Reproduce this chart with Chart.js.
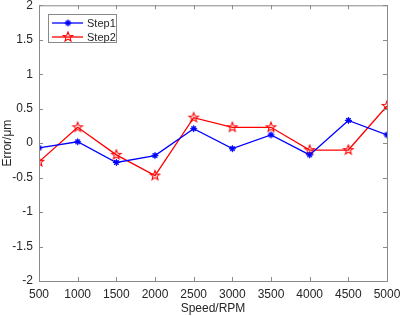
<!DOCTYPE html>
<html>
<head>
<meta charset="utf-8">
<script src="https://cdn.jsdelivr.net/npm/chart.js@4/dist/chart.umd.min.js"></script>
<style>
  html, body { margin: 0; padding: 0; background: #fff; }
  #wrap { width: 400px; height: 316px; }
</style>
</head>
<body>
<div id="wrap"><canvas id="chart"></canvas></div>
<script>
const speeds = [500, 1000, 1500, 2000, 2500, 3000, 3500, 4000, 4500, 5000];
const step1 = [-0.07, 0.02, -0.28, -0.18, 0.21, -0.08, 0.12, -0.17, 0.33, 0.12];
const step2 = [-0.27, 0.23, -0.17, -0.47, 0.37, 0.23, 0.23, -0.10, -0.10, 0.54];
const xTicks = [500, 1000, 1500, 2000, 2500, 3000, 3500, 4000, 4500, 5000];
const yTicks = [-2, -1.5, -1, -0.5, 0, 0.5, 1, 1.5, 2];

const FONT = 'Liberation Sans, Arial, sans-serif';
const AXIS = '#8a8a8a';
const TEXT = '#262626';

// marker images
function starMarker(color, r) {
  const c = document.createElement('canvas');
  c.width = c.height = 2 * r + 4;
  const g = c.getContext('2d');
  g.translate(c.width / 2, c.height / 2);
  g.beginPath();
  for (let i = 0; i < 10; i++) {
    const rad = i % 2 === 0 ? r : r * 0.42;
    const a = -Math.PI / 2 + i * Math.PI / 5;
    g.lineTo(rad * Math.cos(a), rad * Math.sin(a));
  }
  g.closePath();
  g.strokeStyle = color;
  g.lineWidth = 1.1;
  g.stroke();
  return c;
}
function asteriskMarker(color, r) {
  const c = document.createElement('canvas');
  c.width = c.height = 2 * r + 4;
  const g = c.getContext('2d');
  g.translate(c.width / 2, c.height / 2);
  g.fillStyle = color;
  g.beginPath();
  g.arc(0, 0, r * 0.7, 0, Math.PI * 2);
  g.fill();
  g.strokeStyle = color;
  g.lineWidth = 1;
  for (let i = 0; i < 4; i++) {
    const a = i * Math.PI / 4;
    g.beginPath();
    g.moveTo(-r * Math.cos(a), -r * Math.sin(a));
    g.lineTo(r * Math.cos(a), r * Math.sin(a));
    g.stroke();
  }
  return c;
}
const blueMark = asteriskMarker('#0000ff', 3.5);
const redMark = starMarker('#ff0000', 5);

// MATLAB-like box with inward ticks and an inside legend
const boxPlugin = {
  id: 'boxPlugin',
  afterDatasetsDraw(chart) {
    const { ctx, chartArea: a, scales } = chart;
    ctx.save();
    ctx.strokeStyle = AXIS;
    ctx.lineWidth = 1;
    ctx.strokeRect(a.left + 0.5, a.top + 0.5, a.right - a.left, a.bottom - a.top);
    const tl = 4;
    ctx.beginPath();
    xTicks.forEach(v => {
      const x = Math.round(scales.x.getPixelForValue(v)) + 0.5;
      ctx.moveTo(x, a.bottom); ctx.lineTo(x, a.bottom - tl);
      ctx.moveTo(x, a.top); ctx.lineTo(x, a.top + tl);
    });
    yTicks.forEach(v => {
      const y = Math.round(scales.y.getPixelForValue(v)) + 0.5;
      ctx.moveTo(a.left, y); ctx.lineTo(a.left + tl, y);
      ctx.moveTo(a.right, y); ctx.lineTo(a.right - tl, y);
    });
    ctx.stroke();

    // legend
    const lx = 48, ly = 14, lw = 68, lh = 28;
    ctx.fillStyle = '#fff';
    ctx.fillRect(lx, ly, lw, lh);
    ctx.strokeStyle = AXIS;
    ctx.strokeRect(lx + 0.5, ly + 0.5, lw, lh);
    ctx.font = '11px ' + FONT;
    ctx.textBaseline = 'middle';
    ctx.textAlign = 'left';
    chart.data.datasets.forEach((ds, i) => {
      const y = ly + 9 + i * 14;
      ctx.strokeStyle = ds.borderColor;
      ctx.lineWidth = 1.3;
      ctx.beginPath();
      ctx.moveTo(lx + 4, y); ctx.lineTo(lx + 35, y);
      ctx.stroke();
      const m = ds.pointStyle;
      ctx.drawImage(m, lx + 20 - m.width / 2, y - m.height / 2);
      ctx.fillStyle = TEXT;
      ctx.fillText(ds.label, lx + 39, y + 1);
    });
    ctx.restore();
  }
};

new Chart(document.getElementById('chart'), {
  type: 'line',
  data: {
    datasets: [
      {
        label: 'Step1',
        data: speeds.map((s, i) => ({ x: s, y: step1[i] })),
        borderColor: '#0000ff',
        backgroundColor: '#0000ff',
        borderWidth: 1.3,
        pointStyle: blueMark,
        tension: 0
      },
      {
        label: 'Step2',
        data: speeds.map((s, i) => ({ x: s, y: step2[i] })),
        borderColor: '#ff0000',
        backgroundColor: '#ff0000',
        borderWidth: 1.3,
        pointStyle: redMark,
        tension: 0
      }
    ]
  },
  options: {
    responsive: true,
    maintainAspectRatio: false,
    animation: false,
    layout: { padding: { top: 5, right: 13, left: 0, bottom: 0 } },
    plugins: { legend: { display: false }, tooltip: { enabled: false } },
    scales: {
      x: {
        type: 'linear',
        min: 500,
        max: 5000,
        afterBuildTicks: s => { s.ticks = xTicks.map(v => ({ value: v })); },
        afterFit: s => { s.height = 35; s.paddingLeft = 0; s.paddingRight = 0; },
        grid: { display: false, drawTicks: false },
        border: { display: false },
        ticks: { color: TEXT, font: { family: FONT, size: 12 }, padding: 6, maxRotation: 0, callback: v => String(v) },
        title: { display: true, text: 'Speed/RPM', color: TEXT, font: { family: FONT, size: 12 }, padding: { top: 1, bottom: 0 } }
      },
      y: {
        min: -2,
        max: 2,
        afterBuildTicks: s => { s.ticks = yTicks.map(v => ({ value: v })); },
        afterFit: s => { s.width = 39; s.paddingTop = 0; s.paddingBottom = 0; },
        grid: { display: false, drawTicks: false },
        border: { display: false },
        ticks: { color: TEXT, font: { family: FONT, size: 12 }, padding: 6, callback: v => String(v) },
        title: { display: true, text: 'Error/μm', color: TEXT, font: { family: FONT, size: 12 }, padding: { top: 0, bottom: 0 } }
      }
    }
  },
  plugins: [boxPlugin]
});
</script>
</body>
</html>
